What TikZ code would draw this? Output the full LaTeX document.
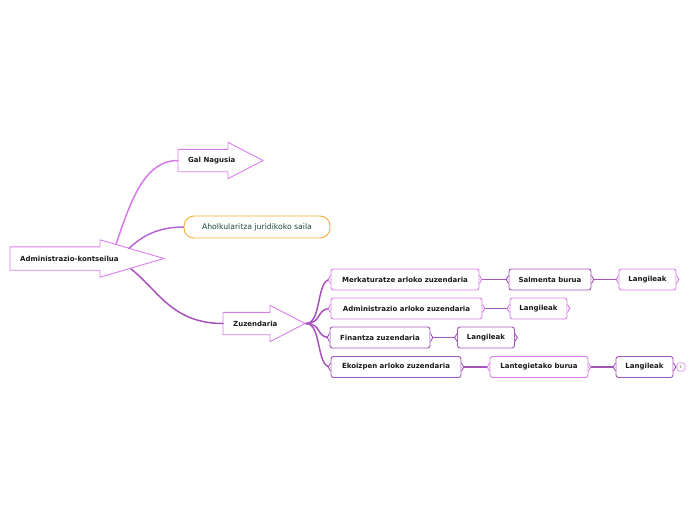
\documentclass[tikz,border=0pt]{standalone}
\usepackage{fontspec}
\setmainfont{DejaVu Sans}
\usetikzlibrary{calc}
\definecolor{cViolet}{RGB}{218,125,236}
\definecolor{cPurple}{RGB}{163,86,186}
\definecolor{cOrange}{RGB}{246,172,52}
\definecolor{cGreenText}{RGB}{28,72,58}
\definecolor{cLinkA}{RGB}{214,120,234}
\definecolor{cLinkB}{RGB}{186,100,210}
\definecolor{cLinkC}{RGB}{166,84,188}

\begin{document}
\begin{tikzpicture}[x=1pt, y=-1pt,
    lbl/.style={font=\fontsize{7}{8}\selectfont\bfseries, text=black!90},
    arr/.style={lbl, anchor=west, inner xsep=10pt, inner ysep=0pt, minimum height=22pt},
    arrline/.style={draw=cViolet, line width=0.9pt, line join=round},
    box/.style={lbl, draw, fill=white, rounded corners=2.5pt, line width=0.9pt, minimum height=21pt, inner sep=0pt},
    link/.style={line width=1.5pt, line cap=round},
    hlink/.style={draw=cPurple, line width=1.6pt}]
  \useasboundingbox (0,0) rectangle (696,520);

  % arrow shaped nodes
  \node[arr, minimum height=23pt] (admin) at (10,258.5) {Administrazio-kontseilua};
  \draw[arrline] (admin.north west) -- ++(90,0) -- ++(0,-7) -- ($(admin.west)+(154,0)$)
    -- ($(admin.south west)+(90,7)$) -- ++(0,-7) -- (admin.south west) -- cycle;
  \node[arr] (gal) at (178,160.5) {Gal Nagusia};
  \draw[arrline] (gal.north west) -- ++(50,0) -- ++(0,-7) -- ($(gal.west)+(85,0)$)
    -- ($(gal.south west)+(50,7)$) -- ++(0,-7) -- (gal.south west) -- cycle;
  \node[arr] (zuz) at (223,323.5) {Zuzendaria};
  \draw[arrline] (zuz.north west) -- ++(47,0) -- ++(0,-7) -- ($(zuz.west)+(82,0)$)
    -- ($(zuz.south west)+(47,7)$) -- ++(0,-7) -- (zuz.south west) -- cycle;

  \node[draw=cOrange, rounded corners=10pt, line width=0.9pt, minimum width=146pt, minimum height=22pt,
        inner sep=0pt, font=\fontsize{7.7}{8}\selectfont, text=cGreenText] (ahol) at (257,227) {Aholkularitza juridikoko saila};

  % rows
  \node[box, draw=cViolet, minimum width=148pt] (merk) at (405,279.5) {Merkaturatze arloko zuzendaria};
  \node[box, draw=cPurple, minimum width=82pt] (salm) at (550,279.5) {Salmenta burua};
  \node[box, draw=cViolet, minimum width=57pt] (lang1) at (647.5,279.5) {Langileak};

  \node[box, draw=cViolet, minimum width=151pt] (admarl) at (406.5,308.5) {Administrazio arloko zuzendaria};
  \node[box, draw=cViolet, minimum width=57pt] (lang2) at (538.5,308.5) {Langileak};

  \node[box, draw=cPurple, minimum width=100pt] (fin) at (380,337.5) {Finantza zuzendaria};
  \node[box, draw=cPurple, minimum width=57pt] (lang3) at (486,337.5) {Langileak};

  \node[box, draw=cPurple, minimum width=130pt] (ekoiz) at (396,367) {Ekoizpen arloko zuzendaria};
  \node[box, draw=cViolet, minimum width=98pt] (lant) at (539,367) {Lantegietako burua};
  \node[box, draw=cPurple, minimum width=57pt] (lang4) at (644.5,367) {Langileak};
  \node[draw=cViolet, rounded corners=1.5pt, line width=0.6pt, minimum size=8pt, inner sep=0pt,
        font=\fontsize{4}{4}\selectfont, text=black!60] (more) at (681,367) {1};

  % connectors
  \coordinate (a1) at (116,244.5);
  \coordinate (a2) at (129,248.5);
  \coordinate (a3) at (131,269);
  \coordinate (z0) at (306,323.5);
  \draw[link, cLinkA] (a1) .. controls (132,196) and (146,160.5) .. (gal.west);
  \draw[link, cLinkB] (a2) .. controls (142,236) and (158,227) .. (ahol.west);
  \draw[link, cLinkC] (a3) .. controls (158,290) and (172,323.5) .. (zuz.west);

  \draw[link, cLinkC] (z0) .. controls (322,323.5) and (316,279.5) .. (merk.west);
  \draw[link, cLinkC] (z0) .. controls (322,323.5) and (316,308.5) .. (admarl.west);
  \draw[link, cLinkC] (z0) .. controls (322,323.5) and (316,337.5) .. (fin.west);
  \draw[link, cLinkC] (z0) .. controls (322,323.5) and (316,367) .. (ekoiz.west);

  \draw[hlink] (merk.east) -- (salm.west) (salm.east) -- (lang1.west);
  \draw[hlink] (admarl.east) -- (lang2.west);
  \draw[hlink] (fin.east) -- (lang3.west);
  \draw[hlink] (ekoiz.east) -- (lant.west) (lant.east) -- (lang4.west);

  % little side brackets
  \foreach \n/\c in {merk/cViolet, salm/cPurple, lang1/cViolet, admarl/cViolet, lang2/cViolet,
                     fin/cPurple, lang3/cPurple, ekoiz/cPurple, lant/cViolet, lang4/cPurple} {
    \draw[\c, line width=0.9pt, fill=white] ($(\n.east)+(0,-4)$) .. controls ++(0,2.5) and ++(0,-2) .. ($(\n.east)+(2.5,0)$)
      .. controls ++(0,2) and ++(0,-2.5) .. ($(\n.east)+(0,4)$);
    \draw[\c, line width=0.9pt, fill=white] ($(\n.west)+(0,-4)$) .. controls ++(0,2.5) and ++(0,-2) .. ($(\n.west)+(-2.5,0)$)
      .. controls ++(0,2) and ++(0,-2.5) .. ($(\n.west)+(0,4)$);
  }
\end{tikzpicture}
\end{document}
